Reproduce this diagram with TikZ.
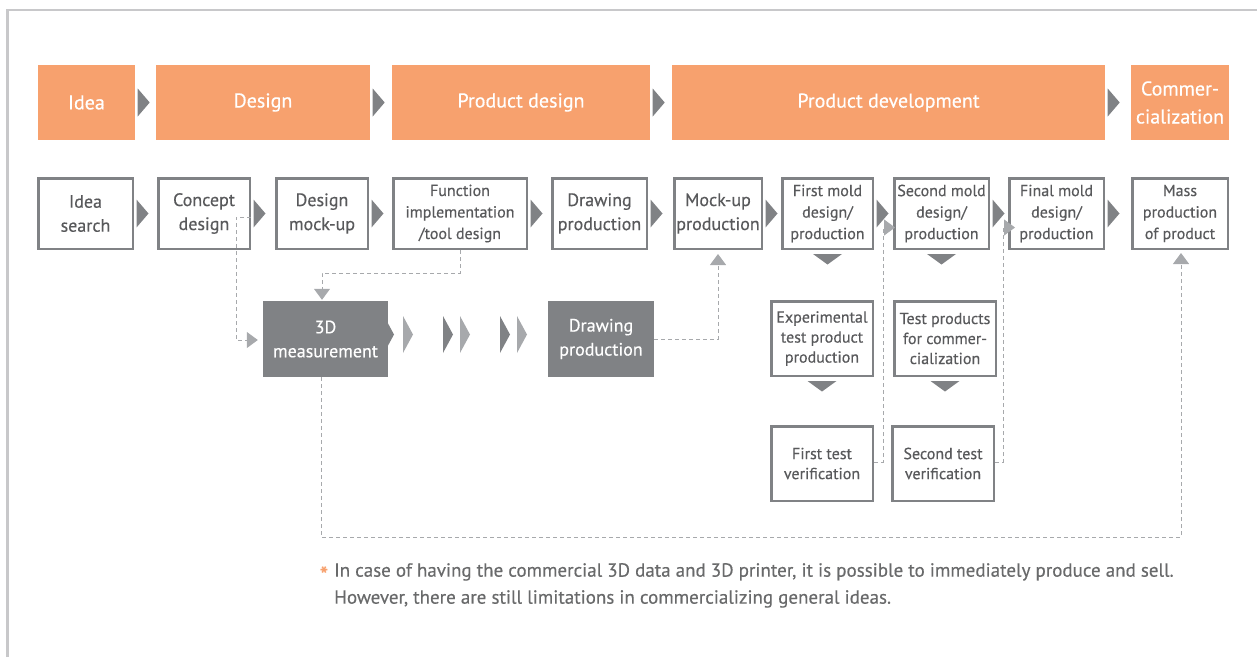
\documentclass[tikz,border=0pt]{standalone}
\usepackage{fontspec}
\setmainfont{PT Sans}[FakeBold=0.4]
\usetikzlibrary{arrows.meta,calc}

\definecolor{orangebar}{RGB}{247,161,110}
\definecolor{darkgrey}{RGB}{128,130,133}
\definecolor{lightgrey}{RGB}{167,169,172}
\definecolor{textgrey}{RGB}{88,89,91}
\definecolor{framegrey}{RGB}{200,200,202}

\begin{document}
\begin{tikzpicture}
	% Styles
	[
	x=1pt, y=-1pt,
	phase/.style={fill=orangebar, text=white, inner sep=0pt, align=center, minimum height=75pt,
		font=\fontsize{20}{28}\selectfont},
	stage/.style={draw=darkgrey, line width=2.5pt, fill=white, text=textgrey, inner sep=0pt,
		align=center, minimum height=70.5pt, font=\fontsize{18}{24}\selectfont},
	small/.style={font=\fontsize{16}{21.5}\selectfont},
	check/.style={stage, minimum height=74.5pt, font=\fontsize{16}{20}\selectfont},
	dark/.style={fill=darkgrey, text=white, inner sep=0pt, align=center, minimum height=76pt,
		font=\fontsize{18}{24}\selectfont},
	link/.style={draw=lightgrey, line width=1pt, dash pattern=on 4pt off 3pt,
		-{Triangle[length=11pt,width=16pt]}},
	next/.pic={\fill[darkgrey] (0,-14) -- (12,0) -- (0,14) -- cycle;},
	down/.pic={\fill[darkgrey] (-14.5,0) -- (14.5,0) -- (0,10.5) -- cycle;},
	flowdark/.pic={\fill[darkgrey] (0,-18.5) -- (10,0) -- (0,18.5) -- cycle;},
	flowlight/.pic={\fill[lightgrey] (0,-18.5) -- (10,0) -- (0,18.5) -- cycle;},
	]
	\useasboundingbox (0,0) rectangle (1257,657);
	\draw[framegrey, line width=2.5pt] (7.5,657) -- (7.5,10) -- (1257,10);

	% Nodes
	\node at (86.5,102.5)	(idea)		[phase, minimum width=97pt]	{Idea};
	\node at (263,102.5)	(design)	[phase, minimum width=214pt]	{Design};
	\node at (521,102.5)	(pdesign)	[phase, minimum width=258pt]	{Product design};
	\node at (888.5,102.5)	(pdev)		[phase, minimum width=433pt]	{Product development};
	\node at (1180,102.5)	(comm)		[phase, minimum width=98pt]	{Commer-\\cialization};

	\node at (85.5,213.5)	(isearch)	[stage, minimum width=94.5pt]	{Idea\\search};
	\node at (204,213.5)	(concept)	[stage, minimum width=91.5pt]	{Concept\\design};
	\node at (322,213.5)	(mockup)	[stage, minimum width=91.5pt]	{Design\\mock-up};
	\node at (460,213.5)	(func)		[stage, small, minimum width=133.5pt]	{Function\\implementation\\/tool design};
	\node at (599.5,213.5)	(drawing)	[stage, minimum width=94.5pt]	{Drawing\\production};
	\node at (718,213.5)	(mockprod)	[stage, minimum width=87.5pt]	{Mock-up\\production};
	\node at (827.5,213.5)	(mold1)		[stage, small, minimum width=90.5pt]	{First mold\\design/\\production};
	\node at (941.5,213.5)	(mold2)		[stage, small, minimum width=94.5pt]	{Second mold\\design/\\production};
	\node at (1056.5,213.5)	(moldf)		[stage, small, minimum width=94.5pt]	{Final mold\\design/\\production};
	\node at (1180,213.5)	(mass)		[stage, small, minimum width=95.5pt]	{Mass\\production\\of product};

	\pic at (384,334.5) {flowdark};
	\node at (325.5,339)	(meas3d)	[dark, minimum width=125pt]	{3D\\measurement};
	\node at (601,339)	(drawdark)	[dark, minimum width=106pt]	{Drawing\\production};
	\node at (822,338.5)	(exp)		[check, minimum width=101.5pt]	{Experimental\\test product\\production};
	\node at (945,338.5)	(testprod)	[check, minimum width=101.5pt]	{Test products\\for commer-\\cialization};
	\node at (822,463.5)	(test1)		[check, minimum width=101.5pt]	{First test\\verification};
	\node at (943,463.5)	(test2)		[check, minimum width=101.5pt]	{Second test\\verification};

	\node at (324,575)	(star)		[text=orangebar, font=\fontsize{24}{27}\selectfont]	{*};
	\node at (334,563)	(note)		[anchor=north west, align=left, inner sep=0pt, text=textgrey!90,
		font=\fontsize{19}{27}\selectfont]
		{In case of having the commercial 3D data and 3D printer, it is possible to immediately produce and sell.\\
		However, there are still limitations in commercializing general ideas.};

	% Separators
	\foreach \a/\b in {idea/design, design/pdesign, pdesign/pdev, pdev/comm,
		isearch/concept, concept/mockup, mockup/func, func/drawing, drawing/mockprod,
		mockprod/mold1, mold1/mold2, mold2/moldf, moldf/mass}
		\pic at ($(\a.east)+(2.5,0)$) {next};
	\foreach \a in {mold1, mold2, exp, testprod}
		\pic at ($(\a.south)+(0,4)$) {down};
	\foreach \x in {403, 460, 517}
		\pic at (\x,334.5) {flowlight};
	\foreach \x in {443, 500}
		\pic at (\x,334.5) {flowdark};

	% Connections
	\draw[link] ($(concept.east)+(0,3.5)$) -- ++(-15,0) |- ($(meas3d.west)+(-5,1)$);
	\draw[link] (func.south) -- ++(0,23) -| ($(meas3d.north)+(-3.5,-1)$);
	\draw[link] (drawdark.east) -| ($(mockprod.south)+(0,4)$);
	\draw[link] ($(meas3d.south)+(-4.5,0)$) -- ++(0,160) -| ($(mass.south)+(1,3)$);
	\draw[link] ($(test1.east)+(0,-1.5)$) -| ($(mold2.west)+(-10,14)$) -- ++(12,0);
	\draw[link] ($(test2.east)+(0,-1.5)$) -| ($(moldf.west)+(-5,14)$) -- ++(12,0);

\end{tikzpicture}
\end{document}
